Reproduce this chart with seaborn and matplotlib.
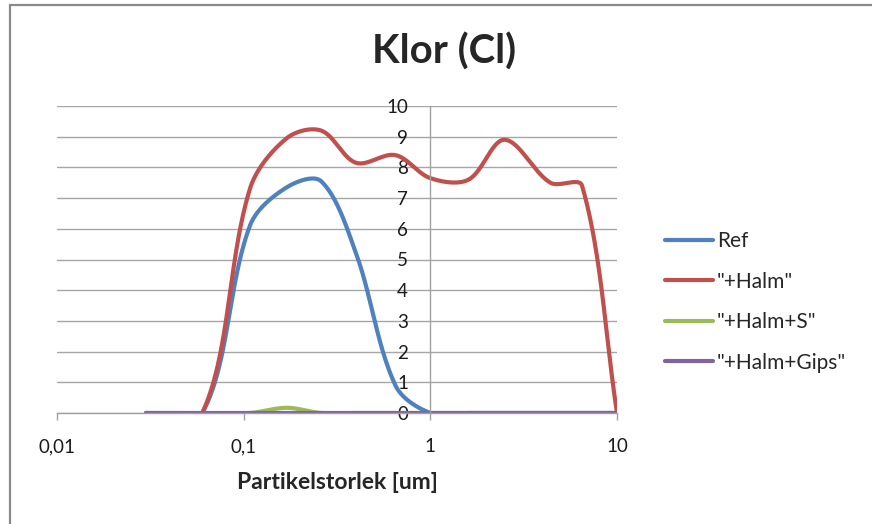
import numpy as np
import pandas as pd
import matplotlib
matplotlib.use("Agg")
import matplotlib.pyplot as plt
from matplotlib.patches import Rectangle
import seaborn as sns

# Particle size classes [um] and chlorine values per series
sizes = [0.03, 0.06, 0.108, 0.17, 0.26, 0.4, 0.65, 1.0, 1.6, 2.5, 4.4, 6.5, 10.0]
ref = [0, 0, 6.1, 7.35, 7.55, 5.2, 0.9, 0.0, 0, 0, 0, 0, 0]
halm = [0, 0, 7.3, 8.95, 9.2, 8.15, 8.4, 7.65, 7.6, 8.9, 7.5, 7.4, 0]
halm_s = [0, 0, 0, 0.17, 0, 0, 0, 0, 0, 0, 0, 0, 0]
halm_gips = [0, 0, 0, 0, 0, 0, 0, 0, 0, 0, 0, 0, 0]

series_names = ["Ref", '"+Halm"', '"+Halm+S"', '"+Halm+Gips"']
series_values = [ref, halm, halm_s, halm_gips]
colors = ["#4F81BD", "#C0504D", "#9BBB59", "#8064A2"]

x_ticks = [0.01, 0.1, 1, 10]
x_ticklabels = ["0,01", "0,1", "1", "10"]
y_ticks = list(range(0, 11))

W, H = 872, 524
PLOT_L, PLOT_R, PLOT_T, PLOT_B = 57, 617, 106, 413
SX = (PLOT_R - PLOT_L) / 3.0      # pixels per decade
SY = (PLOT_B - PLOT_T) / 10.0     # pixels per unit


def smooth(xs, ys, n=60, tension=1 / 3):
    """Smoothed line: cubic Bezier segments in screen space, with control
    arms scaled by the lengths of the neighbouring segments."""
    u = np.log10(np.asarray(xs, float)) * SX
    y = np.asarray(ys, float) * SY
    pts = np.column_stack([u, y])
    m = len(pts)
    seglen = np.hypot(*np.diff(pts, axis=0).T)
    c_out = np.zeros_like(pts)
    c_in = np.zeros_like(pts)
    for i in range(m):
        if i == 0:
            c_out[i] = pts[0] + (pts[1] - pts[0]) * tension
            continue
        if i == m - 1:
            c_in[i] = pts[i] - (pts[i] - pts[i - 1]) * tension
            continue
        d = pts[i + 1] - pts[i - 1]
        l0, l1 = seglen[i - 1], seglen[i]
        tot = l0 + l1 if (l0 + l1) > 0 else 1.0
        c_out[i] = pts[i] + d * tension * l1 / tot
        c_in[i] = pts[i] - d * tension * l0 / tot
    out = []
    for i in range(m - 1):
        p1, p2 = pts[i], pts[i + 1]
        a, b = c_out[i], c_in[i + 1]
        t = np.linspace(0, 1, n, endpoint=(i == m - 2))[:, None]
        seg = ((1 - t) ** 3) * p1 + 3 * ((1 - t) ** 2) * t * a + 3 * (1 - t) * t ** 2 * b + t ** 3 * p2
        out.append(seg)
    out = np.vstack(out)
    return 10 ** (out[:, 0] / SX), out[:, 1] / SY


frames = []
for name, vals in zip(series_names, series_values):
    sx, sy = smooth(sizes, vals)
    frames.append(pd.DataFrame({"size": sx, "value": sy, "serie": name}))
df = pd.concat(frames, ignore_index=True)

sns.set_theme(style="white")
plt.rcParams["font.family"] = ["Lato", "DejaVu Sans"]

fig = plt.figure(figsize=(W / 100, H / 100), dpi=100)
ax = fig.add_axes([PLOT_L / W, 1 - PLOT_B / H, (PLOT_R - PLOT_L) / W, (PLOT_B - PLOT_T) / H])

sns.lineplot(data=df, x="size", y="value", hue="serie", hue_order=series_names,
             palette=colors, sort=False, estimator=None,
             linewidth=3.0, ax=ax, legend=True)

ax.set_xscale("log")
ax.set_xlim(0.01, 10)
ax.set_ylim(0, 10)
ax.set_xticks(x_ticks)
ax.set_xticklabels(x_ticklabels)
ax.xaxis.set_minor_locator(matplotlib.ticker.NullLocator())
ax.set_yticks(y_ticks)
ax.set_yticklabels([str(v) for v in y_ticks])

grid_c = "#A6A6A6"
axis_c = "#A0A0A0"
ax.grid(axis="y", color=grid_c, linewidth=1.0)
ax.grid(axis="x", visible=False)
ax.set_axisbelow(True)
for s in ["top", "right"]:
    ax.spines[s].set_visible(False)
ax.spines["left"].set_position(("data", 1))
ax.spines["left"].set_color(axis_c)
ax.spines["left"].set_linewidth(1.0)
ax.spines["bottom"].set_color(axis_c)
ax.spines["bottom"].set_linewidth(1.0)

ax.tick_params(axis="x", direction="out", length=5, width=1.0, color=axis_c,
               labelsize=13.5, pad=13, labelcolor="#1a1a1a", bottom=True)
ax.tick_params(axis="y", length=0, labelsize=13.5, pad=16, labelcolor="#1a1a1a", left=True)

ax.set_xlabel("Partikelstorlek [um]", fontsize=16.5, fontweight="bold", labelpad=12)
ax.set_ylabel("")

fig.text(444 / W, 1 - 52 / H, "Klor (Cl)", fontsize=29, fontweight="bold",
         ha="center", va="center")

handles, labels = ax.get_legend_handles_labels()
ax.legend(handles, labels, loc="center left", frameon=False,
          bbox_to_anchor=(665 / W, 1 - 302 / H), bbox_transform=fig.transFigure,
          borderpad=0, borderaxespad=0, handlelength=2.3, handletextpad=0.2,
          labelspacing=0.98, fontsize=15)

fig.patches.append(Rectangle((9.5 / W, -0.1), 2, 1 - 5 / H + 0.1,
                             transform=fig.transFigure, fill=False,
                             edgecolor="#898989", linewidth=1.6))

fig.savefig("out.png", dpi=100, facecolor="white")
